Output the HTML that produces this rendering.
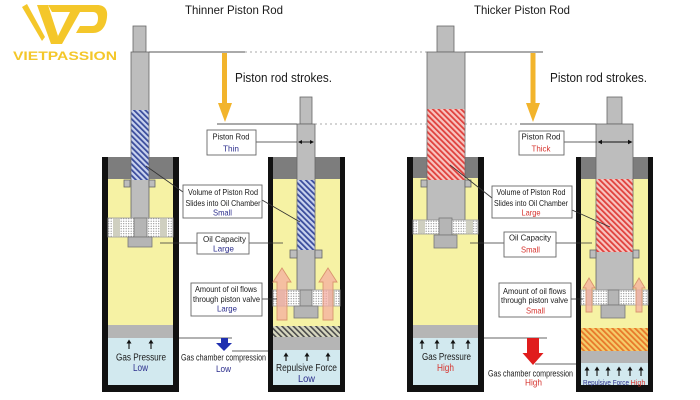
<!DOCTYPE html>
<html><head><meta charset="utf-8"><style>
html,body{margin:0;padding:0;background:#fff;}
svg{display:block;}
text{font-family:"Liberation Sans",Arial,sans-serif;fill:#1a1a1a;}
.b{fill:#2b2d8c;}
.r{fill:#d6342e;}
</style></head><body>
<svg width="700" height="400" viewBox="0 0 700 400" xmlns="http://www.w3.org/2000/svg">
<defs>
<pattern id="hb" width="4" height="4" patternUnits="userSpaceOnUse" patternTransform="rotate(-45)"><rect width="4" height="4" fill="#c9d3ee"/><rect width="1.8" height="4" fill="#3a4c9c"/></pattern>
<pattern id="hr" width="4" height="4" patternUnits="userSpaceOnUse" patternTransform="rotate(-45)"><rect width="4" height="4" fill="#f7c4c0"/><rect width="1.8" height="4" fill="#e0403c"/></pattern>
<pattern id="ho" width="4" height="4" patternUnits="userSpaceOnUse" patternTransform="rotate(-45)"><rect width="4" height="4" fill="#f4cc6a"/><rect width="1.8" height="4" fill="#e8782a"/></pattern>
<pattern id="hg" width="4" height="4" patternUnits="userSpaceOnUse" patternTransform="rotate(-45)"><rect width="4" height="4" fill="#d8d8c0"/><rect width="1.6" height="4" fill="#4a4a4a"/></pattern>
<pattern id="dots" width="2.5" height="2.5" patternUnits="userSpaceOnUse"><rect width="2.5" height="2.5" fill="#fff"/><circle cx="1.2" cy="1.2" r="0.6" fill="#888"/></pattern>
</defs>

<!-- LOGO -->
<g fill="#f4c72a">
<polygon points="22,7 27,4 45,37 42,41"/>
<polygon points="37,5 48,5 58,36 55,44 51,44"/>
<polygon points="70,12 80,12 62,44 54,44"/>
<path d="M48,5 L97,5 C105,5 108,10 107,17 C106,27 101,33 93,33 L76,33 L80,26 L92,26 C96,26 98,23 98,18 C98,14 96,12 93,12 L52,12 Z"/>
<text x="13" y="60" font-size="12" font-weight="bold" textLength="104" lengthAdjust="spacingAndGlyphs" style="fill:#f4c72a">VIETPASSION</text>
</g>

<!-- Titles -->
<text x="185" y="14" font-size="12" textLength="98" lengthAdjust="spacingAndGlyphs">Thinner Piston Rod</text>
<text x="474" y="14" font-size="12" textLength="96" lengthAdjust="spacingAndGlyphs">Thicker Piston Rod</text>
<text x="235" y="82" font-size="13" textLength="97" lengthAdjust="spacingAndGlyphs">Piston rod strokes.</text>
<text x="550" y="82" font-size="13" textLength="97" lengthAdjust="spacingAndGlyphs">Piston rod strokes.</text>

<!-- reference lines -->
<g stroke-width="0.9">
<line x1="149" y1="52" x2="245" y2="52" stroke="#555"/>
<line x1="245" y1="52" x2="427" y2="52" stroke="#aaa" stroke-dasharray="2,3"/>
<line x1="465" y1="52" x2="543" y2="52" stroke="#555"/>
<line x1="217" y1="124" x2="297" y2="124" stroke="#555"/>
<line x1="315" y1="124" x2="520" y2="124" stroke="#aaa" stroke-dasharray="2,3"/>
<line x1="520" y1="124" x2="596" y2="124" stroke="#555"/>
</g>

<!-- yellow arrows -->
<g fill="#f2b42c">
<rect x="222" y="53" width="5" height="52"/>
<polygon points="218,103 232,103 225,122"/>
<rect x="530.5" y="53" width="5" height="52"/>
<polygon points="526,103 540,103 533,122"/>
</g>

<!-- CYLINDER 1 -->
<rect x="102" y="157" width="77" height="235" fill="#111"/>
<rect x="108" y="157" width="65" height="22" fill="#7d7d7d"/>
<rect x="108" y="179" width="65" height="146" fill="#f6f2a4"/>
<rect x="108" y="325" width="65" height="13" fill="#b5b5b5"/>
<rect x="108" y="338" width="65" height="47" fill="#d2e9ef"/>
<g stroke="#666" stroke-width="0.8" fill="#bdbdbd">
<rect x="133" y="26" width="13" height="26"/>
<rect x="131" y="52" width="18" height="167"/>
<rect x="124" y="180" width="6" height="7"/>
<rect x="149" y="180" width="6" height="7"/>
</g>
<rect x="131.4" y="110" width="17.2" height="70" fill="url(#hb)"/>
<rect x="108" y="218" width="65" height="19" fill="url(#dots)" stroke="#999" stroke-width="0.8"/>
<rect x="113" y="218.4" width="7" height="18.2" fill="#cfcfc0"/>
<rect x="160" y="218.4" width="7" height="18.2" fill="#cfcfc0"/>
<g stroke="#777" stroke-width="0.8" fill="#b5b5b5">
<rect x="134" y="218" width="13" height="19"/>
<rect x="128" y="237" width="24" height="10"/>
</g>

<!-- CYLINDER 2 -->
<rect x="268" y="157" width="77" height="235" fill="#111"/>
<rect x="273" y="157" width="67" height="22" fill="#7d7d7d"/>
<rect x="273" y="179" width="67" height="147" fill="#f6f2a4"/>
<rect x="273" y="326" width="67" height="11" fill="url(#hg)"/>
<rect x="273" y="337" width="67" height="13" fill="#b5b5b5"/>
<rect x="273" y="350" width="67" height="35" fill="#d2e9ef"/>
<g stroke="#666" stroke-width="0.8" fill="#bdbdbd">
<rect x="300" y="97" width="12" height="27"/>
<rect x="297" y="124" width="18" height="166"/>
<rect x="290" y="250" width="7" height="8"/>
<rect x="315" y="250" width="7" height="8"/>
</g>
<rect x="297.4" y="180" width="17.2" height="70" fill="url(#hb)"/>
<rect x="273" y="290" width="67" height="16" fill="url(#dots)" stroke="#999" stroke-width="0.8"/>
<rect x="278" y="290.4" width="7" height="15.2" fill="#cfcfc0"/>
<rect x="328" y="290.4" width="7" height="15.2" fill="#cfcfc0"/>
<g stroke="#777" stroke-width="0.8" fill="#b5b5b5">
<rect x="300" y="290" width="12" height="16"/>
<rect x="294" y="306" width="24" height="12"/>
</g>
<g fill="#f4aaa0" fill-opacity="0.72" stroke="#d9946e" stroke-width="0.9">
<polygon points="282,268 291,282 287,282 287,320 277,320 277,282 273,282"/>
<polygon points="328,268 337,282 333,282 333,320 323,320 323,282 319,282"/>
</g>

<!-- CYLINDER 3 -->
<rect x="407" y="157" width="77" height="235" fill="#111"/>
<rect x="413" y="157" width="65" height="21" fill="#7d7d7d"/>
<rect x="413" y="178" width="65" height="147" fill="#f6f2a4"/>
<rect x="413" y="325" width="65" height="13" fill="#b5b5b5"/>
<rect x="413" y="338" width="65" height="47" fill="#d2e9ef"/>
<g stroke="#666" stroke-width="0.8" fill="#bdbdbd">
<rect x="437" y="26" width="17" height="26"/>
<rect x="427" y="52" width="38" height="168"/>
<rect x="421" y="180" width="6" height="7"/>
<rect x="465" y="180" width="6" height="7"/>
</g>
<rect x="427.4" y="109" width="37.2" height="71" fill="url(#hr)"/>
<rect x="413" y="220" width="65" height="14" fill="url(#dots)" stroke="#999" stroke-width="0.8"/>
<rect x="418" y="220.4" width="7" height="13.2" fill="#cfcfc0"/>
<rect x="466" y="220.4" width="7" height="13.2" fill="#cfcfc0"/>
<g stroke="#777" stroke-width="0.8" fill="#b5b5b5">
<rect x="439" y="218" width="13" height="17"/>
<rect x="434" y="235" width="23" height="13"/>
</g>

<!-- CYLINDER 4 -->
<rect x="576" y="157" width="77" height="235" fill="#111"/>
<rect x="581" y="157" width="67" height="22" fill="#7d7d7d"/>
<rect x="581" y="179" width="67" height="149" fill="#f6f2a4"/>
<rect x="581" y="328" width="67" height="23" fill="url(#ho)"/>
<rect x="581" y="351" width="67" height="12" fill="#b5b5b5"/>
<rect x="581" y="363" width="67" height="22" fill="#d2e9ef"/>
<g stroke="#666" stroke-width="0.8" fill="#bdbdbd">
<rect x="607" y="97" width="15" height="27"/>
<rect x="596" y="124" width="37" height="166"/>
<rect x="590" y="250" width="6" height="8"/>
<rect x="633" y="250" width="6" height="8"/>
</g>
<rect x="596.4" y="179" width="36.2" height="73" fill="url(#hr)"/>
<rect x="581" y="290" width="67" height="15" fill="url(#dots)" stroke="#999" stroke-width="0.8"/>
<rect x="586" y="290.4" width="7" height="14.2" fill="#cfcfc0"/>
<rect x="636" y="290.4" width="7" height="14.2" fill="#cfcfc0"/>
<g stroke="#777" stroke-width="0.8" fill="#b5b5b5">
<rect x="608" y="290" width="11" height="15"/>
<rect x="601" y="305" width="24" height="13"/>
</g>
<g fill="#f4aaa0" fill-opacity="0.72" stroke="#d9946e" stroke-width="0.9">
<polygon points="589,278 595,288 592,288 592,312 586,312 586,288 583,288"/>
<polygon points="639,278 645,288 642,288 642,312 636,312 636,288 633,288"/>
</g>

<!-- small black up arrows -->
<g stroke="#111" stroke-width="1.1" fill="#111">
<line x1="129" y1="342" x2="129" y2="349"/><polygon points="126.5,343.5 129,339.5 131.5,343.5" stroke="none"/>
<line x1="151" y1="342" x2="151" y2="349"/><polygon points="148.5,343.5 151,339.5 153.5,343.5" stroke="none"/>
<line x1="286" y1="355" x2="286" y2="361"/><polygon points="283.5,356.5 286,352.5 288.5,356.5" stroke="none"/>
<line x1="307" y1="355" x2="307" y2="361"/><polygon points="304.5,356.5 307,352.5 309.5,356.5" stroke="none"/>
<line x1="328" y1="355" x2="328" y2="361"/><polygon points="325.5,356.5 328,352.5 330.5,356.5" stroke="none"/>
<line x1="422" y1="342" x2="422" y2="349"/><polygon points="419.5,343.5 422,339.5 424.5,343.5" stroke="none"/>
<line x1="437" y1="342" x2="437" y2="349"/><polygon points="434.5,343.5 437,339.5 439.5,343.5" stroke="none"/>
<line x1="453" y1="342" x2="453" y2="349"/><polygon points="450.5,343.5 453,339.5 455.5,343.5" stroke="none"/>
<line x1="468" y1="342" x2="468" y2="349"/><polygon points="465.5,343.5 468,339.5 470.5,343.5" stroke="none"/>
<line x1="587" y1="369" x2="587" y2="376"/><polygon points="584.5,370.5 587,366.5 589.5,370.5" stroke="none"/>
<line x1="597" y1="369" x2="597" y2="376"/><polygon points="594.5,370.5 597,366.5 599.5,370.5" stroke="none"/>
<line x1="608" y1="369" x2="608" y2="376"/><polygon points="605.5,370.5 608,366.5 610.5,370.5" stroke="none"/>
<line x1="619" y1="369" x2="619" y2="376"/><polygon points="616.5,370.5 619,366.5 621.5,370.5" stroke="none"/>
<line x1="630" y1="369" x2="630" y2="376"/><polygon points="627.5,370.5 630,366.5 632.5,370.5" stroke="none"/>
<line x1="641" y1="369" x2="641" y2="376"/><polygon points="638.5,370.5 641,366.5 643.5,370.5" stroke="none"/>
</g>

<!-- leader lines -->
<g stroke="#333" stroke-width="0.8" fill="none">
<line x1="256" y1="142" x2="297" y2="142"/>
<line x1="564" y1="142" x2="597" y2="142"/>
<line x1="146" y1="166" x2="183" y2="192"/>
<line x1="262" y1="200" x2="300" y2="222"/>
<line x1="450" y1="165" x2="492" y2="198"/>
<line x1="572" y1="210" x2="610" y2="227"/>
<line x1="160" y1="243" x2="197" y2="243"/>
<line x1="249" y1="243" x2="283" y2="243"/>
<line x1="470" y1="243" x2="504" y2="243"/>
<line x1="556" y1="243" x2="592" y2="243"/>
<line x1="262" y1="299" x2="277" y2="299"/>
<line x1="571" y1="299" x2="583" y2="299"/>
<line x1="179" y1="338" x2="232" y2="338"/>
<line x1="232" y1="351" x2="268" y2="351"/>
<line x1="484" y1="338" x2="547" y2="338"/>
<line x1="535" y1="364" x2="576" y2="364"/>
</g>
<!-- double arrows in rods -->
<g stroke="#111" stroke-width="0.9" fill="#111">
<line x1="300" y1="142" x2="312" y2="142"/>
<polygon points="298,142 302,140 302,144" stroke="none"/>
<polygon points="314,142 310,140 310,144" stroke="none"/>
<line x1="600" y1="142" x2="630" y2="142"/>
<polygon points="597.5,142 602,139.8 602,144.2" stroke="none"/>
<polygon points="632.5,142 628,139.8 628,144.2" stroke="none"/>
</g>

<!-- compression arrows -->
<g fill="#1f2fb0">
<rect x="221" y="338" width="7" height="5.5"/>
<polygon points="216,343 232,343 224,351"/>
</g>
<g fill="#e01c1c">
<rect x="527" y="338" width="12" height="16"/>
<polygon points="522.5,353 543.5,353 533,365"/>
</g>

<!-- label boxes -->
<g fill="#fff" stroke="#666" stroke-width="0.9">
<rect x="207" y="130" width="49" height="25"/>
<rect x="519" y="131" width="45" height="24"/>
<rect x="183" y="185" width="79" height="33"/>
<rect x="492" y="186" width="80" height="32"/>
<rect x="197" y="233" width="52" height="21"/>
<rect x="504" y="232" width="52" height="25"/>
<rect x="191" y="283" width="71" height="33"/>
<rect x="499" y="283" width="72" height="34"/>
</g>

<g font-size="8.5" text-anchor="middle">
<text x="231" y="139.5" textLength="37" lengthAdjust="spacingAndGlyphs">Piston Rod</text>
<text x="231" y="151.5" class="b" textLength="16" lengthAdjust="spacingAndGlyphs">Thin</text>
<text x="541" y="139.5" textLength="39" lengthAdjust="spacingAndGlyphs">Piston Rod</text>
<text x="541" y="151.5" class="r" textLength="19" lengthAdjust="spacingAndGlyphs">Thick</text>

<text x="223" y="195" textLength="70" lengthAdjust="spacingAndGlyphs">Volume of Piston Rod</text>
<text x="223" y="206" textLength="75" lengthAdjust="spacingAndGlyphs">Slides into Oil Chamber</text>
<text x="222.5" y="215.5" class="b" textLength="19" lengthAdjust="spacingAndGlyphs">Small</text>
<text x="531" y="195" textLength="69" lengthAdjust="spacingAndGlyphs">Volume of Piston Rod</text>
<text x="531" y="206" textLength="74" lengthAdjust="spacingAndGlyphs">Slides into Oil Chamber</text>
<text x="531" y="215.5" class="r" textLength="19" lengthAdjust="spacingAndGlyphs">Large</text>

<text x="224.5" y="242" textLength="43" lengthAdjust="spacingAndGlyphs">Oil Capacity</text>
<text x="223.5" y="251.5" class="b" textLength="21" lengthAdjust="spacingAndGlyphs">Large</text>
<text x="530" y="240.5" textLength="42" lengthAdjust="spacingAndGlyphs">Oil Capacity</text>
<text x="530.5" y="252.5" class="r" textLength="19" lengthAdjust="spacingAndGlyphs">Small</text>

<text x="226" y="292" textLength="62" lengthAdjust="spacingAndGlyphs">Amount of oil flows</text>
<text x="226.5" y="302" textLength="67" lengthAdjust="spacingAndGlyphs">through piston valve</text>
<text x="227" y="311.5" class="b" textLength="20" lengthAdjust="spacingAndGlyphs">Large</text>
<text x="534.5" y="294" textLength="63" lengthAdjust="spacingAndGlyphs">Amount of oil flows</text>
<text x="534.5" y="303" textLength="67" lengthAdjust="spacingAndGlyphs">through piston valve</text>
<text x="535.5" y="313.5" class="r" textLength="19" lengthAdjust="spacingAndGlyphs">Small</text>
</g>

<g font-size="10" text-anchor="middle">
<text x="141" y="360.5" textLength="50" lengthAdjust="spacingAndGlyphs">Gas Pressure</text>
<text x="140.5" y="371" class="b" textLength="15" lengthAdjust="spacingAndGlyphs">Low</text>
<text x="446.5" y="360" textLength="49" lengthAdjust="spacingAndGlyphs">Gas Pressure</text>
<text x="445.5" y="371" class="r" textLength="17" lengthAdjust="spacingAndGlyphs">High</text>
<text x="306.5" y="371" textLength="61" lengthAdjust="spacingAndGlyphs">Repulsive Force</text>
<text x="306.5" y="382" class="b" textLength="17" lengthAdjust="spacingAndGlyphs">Low</text>
</g>
<g font-size="9" text-anchor="middle">
<text x="223.5" y="360.5" textLength="85" lengthAdjust="spacingAndGlyphs">Gas chamber compression</text>
<text x="223.5" y="372" class="b" textLength="15" lengthAdjust="spacingAndGlyphs">Low</text>
<text x="530.5" y="376.5" textLength="85" lengthAdjust="spacingAndGlyphs">Gas chamber compression</text>
<text x="533.5" y="385.5" class="r" textLength="17" lengthAdjust="spacingAndGlyphs">High</text>
</g>
<text x="583" y="385" font-size="7.5" class="b" textLength="46" lengthAdjust="spacingAndGlyphs">Repulsive Force</text>
<text x="630.5" y="385" font-size="7.5" class="r" textLength="15" lengthAdjust="spacingAndGlyphs">High</text>
</svg>
</body></html>
